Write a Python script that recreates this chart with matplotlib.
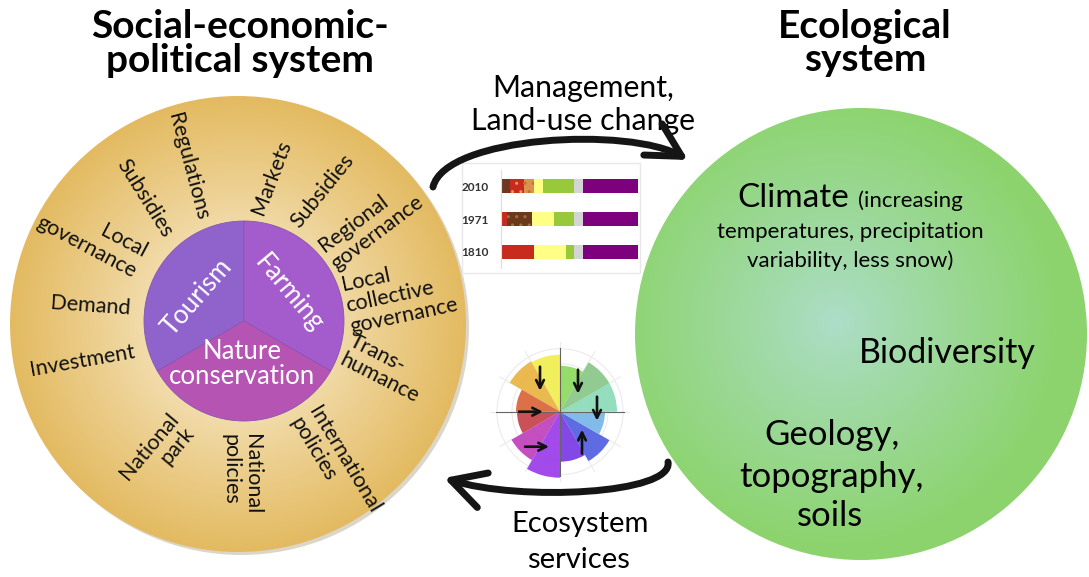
import numpy as np
import matplotlib.pyplot as plt
from matplotlib.patches import Circle, Wedge, Rectangle, FancyArrowPatch
from matplotlib.path import Path

plt.rcParams['font.family'] = ['Lato', 'DejaVu Sans']

# titles and labels
left_title = ["Social-economic-", "political system"]
right_title = ["Ecological", "system"]
sectors = ["Tourism", "Farming", "Nature\nconservation"]
drivers = ["Regulations", "Subsidies", "Local\ngovernance", "Demand", "Investment",
           "National\npark", "National\npolicies", "International\npolicies",
           "Trans-\nhumance", "Local\ncollective\ngovernance", "Regional\ngovernance",
           "Subsidies", "Markets"]
top_flow = ["Management,", "Land-use change"]
bottom_flow = ["Ecosystem", "services"]
eco_words = ["Climate", "(increasing", "temperatures, precipitation", "variability, less snow)",
             "Biodiversity", "Geology,", "topography,", "soils"]

# land-use bars (share of area, %)
years = ["2010", "1971", "1810"]
landuse_2010 = [6.6, 10.5, 7.1, 6.8, 22.4, 6.8, 39.8]
classes_2010 = ["brown", "red", "orange", "yellow", "green", "grey", "purple"]
landuse_1971 = [4.6, 18.3, 15.9, 14.6, 6.8, 39.8]
classes_1971 = ["red", "brown", "yellow", "green", "grey", "purple"]
landuse_1810 = [24.1, 23.4, 5.9, 6.8, 39.8]
classes_1810 = ["red", "yellow", "green", "grey", "purple"]

# rose diagram
rose_theta = [15, 45, 75, 105, 135, 165, 195, 225, 255, 285, 315, 345]
rose_length = [57, 57, 46, 57, 58, 44, 43, 56, 66, 50, 57, 45]
rose_arrow_x = [-20, 18, 37, -29, 22, -23]
rose_arrow_y = [33, 30, 3, 0, -30, -35]
rose_arrow_dir = ["down", "down", "down", "right", "up", "right"]

# layout / styles
class_colors = {"brown": "#6b3a1c", "red": "#c92a1e", "orange": "#d9934f", "yellow": "#ffff85",
                "green": "#97c93b", "grey": "#d4d4d4", "purple": "#7d007d"}
dot_colors = {("2010", "red"): "#e0a050", ("2010", "orange"): "#c07030", ("1971", "brown"): "#a07040"}
rose_colors = ["#8edcbb", "#8cc98c", "#8fdb63", "#f2ef55", "#e9b546", "#d9683f",
               "#c9484f", "#c045be", "#9e40e9", "#7d3ee6", "#5663e2", "#7bb8e8"]
sector_colors = ["#9063cc", "#a45bcb", "#b654b4"]
sector_angles = [(-210, -90), (-90, 30), (30, 150)]
driver_layout = [(188, 167, -75, 'center'), (145, 198, -58, 'center'), (92, 237, -28, 'right'),
                 (90, 306, -4, 'center'), (82, 361, 10, 'center'), (157, 453, 50, 'right'),
                 (241, 474, -90, 'left'), (335, 465, -59, 'left'), (384, 369, -27, 'left'),
                 (400, 295, 12, 'left'), (371, 224, 37, 'left'), (322, 191, 51, 'center'),
                 (271, 177, 69, 'center')]

W, H = 1089, 577
fig = plt.figure(figsize=(W / 100, H / 100), dpi=100)
ax = fig.add_axes([0, 0, 1, 1])
ax.axis('off')


def radial_fill(cx, cy, r, inner, outer, focus=(0, 0), power=1.0):
    xs = np.linspace(cx - r, cx + r, 400)
    ys = np.linspace(cy - r, cy + r, 400)
    X, Y = np.meshgrid(xs, ys)
    d = np.hypot(X - cx - focus[0], Y - cy - focus[1]) / r
    t = np.clip(d, 0, 1) ** power
    img = (1 - t)[..., None] * np.array(inner) + t[..., None] * np.array(outer)
    im = ax.imshow(img, extent=(cx - r, cx + r, cy + r, cy - r), origin='upper',
                   interpolation='bilinear', aspect='auto', zorder=1)
    im.set_clip_path(Circle((cx, cy), r, transform=ax.transData))


# left circle
ax.add_patch(Circle((241, 327), 228, color='#9a8a60', alpha=0.35, lw=0, zorder=0.5))
radial_fill(238, 324, 228, (1.0, 0.98, 0.93), (0.89, 0.73, 0.38), focus=(0, 0), power=0.85)

cx, cy, r = 244, 321, 100
for (a1, a2), c in zip(sector_angles, sector_colors):
    ax.add_patch(Wedge((cx, cy), r, a1, a2, facecolor=c, edgecolor='#8a55b0', lw=0.6, zorder=3))

ax.text(197, 297, sectors[0], color='white', fontsize=18.5, rotation=49, ha='center', va='center',
        rotation_mode='anchor', zorder=4)
ax.text(289, 293, sectors[1], color='white', fontsize=18.5, rotation=-50, ha='center', va='center',
        rotation_mode='anchor', zorder=4)
ax.text(242, 364, sectors[2], color='white', fontsize=18.5, ha='center', va='center',
        linespacing=1.0, zorder=4)

for label, (x, y, rot, al) in zip(drivers, driver_layout):
    ax.text(x, y, label, fontsize=15.5, rotation=rot, ha='center', va='center',
            rotation_mode='anchor', multialignment=al, color='#111111', zorder=4,
            linespacing=1.1)

# right circle
radial_fill(861, 334, 226, (0.68, 0.87, 0.79), (0.55, 0.83, 0.43), focus=(-25, -12), power=0.9)

ax.text(737, 207, eco_words[0], fontsize=24, ha='left', va='baseline', zorder=4)
ax.text(858, 207, eco_words[1], fontsize=16, ha='left', va='baseline', zorder=4)
ax.text(850, 238, eco_words[2], fontsize=16, ha='center', va='baseline', zorder=4)
ax.text(850, 267, eco_words[3], fontsize=16, ha='center', va='baseline', zorder=4)
ax.text(947, 363, eco_words[4], fontsize=24.5, ha='center', va='baseline', zorder=4)
ax.text(832, 445, eco_words[5], fontsize=25, ha='center', va='baseline', zorder=4)
ax.text(831, 487, eco_words[6], fontsize=25, ha='center', va='baseline', zorder=4)
ax.text(830, 526, eco_words[7], fontsize=25, ha='center', va='baseline', zorder=4)

# titles
ax.text(240, 38, left_title[0], fontsize=28, fontweight='bold', ha='center', va='baseline')
ax.text(240, 72, left_title[1], fontsize=28, fontweight='bold', ha='center', va='baseline')
ax.text(865, 38, right_title[0], fontsize=28, fontweight='bold', ha='center', va='baseline')
ax.text(865, 71, right_title[1], fontsize=28, fontweight='bold', ha='center', va='baseline')

ax.text(583, 97, top_flow[0], fontsize=21.8, ha='center', va='baseline')
ax.text(583, 130, top_flow[1], fontsize=21.8, ha='center', va='baseline')
ax.text(580, 532, bottom_flow[0], fontsize=21, ha='center', va='baseline')
ax.text(578, 568, bottom_flow[1], fontsize=21, ha='center', va='baseline')

# curved flow arrows
top_path = Path([(433, 187), (445, 136), (630, 126), (688, 160)],
                [Path.MOVETO, Path.CURVE4, Path.CURVE4, Path.CURVE4])
ax.add_patch(FancyArrowPatch(path=top_path, arrowstyle='->,head_length=1.2,head_width=0.65',
                             mutation_scale=20, lw=5, color='#151515', zorder=5))
bottom_path = Path([(668, 462), (674, 494), (520, 502), (444, 478)],
                   [Path.MOVETO, Path.CURVE4, Path.CURVE4, Path.CURVE4])
ax.add_patch(FancyArrowPatch(path=bottom_path, arrowstyle='->,head_length=1.2,head_width=0.65',
                             mutation_scale=20, lw=5, color='#151515', zorder=5))

# land-use panel
ax.add_patch(Rectangle((462, 163), 178, 110, facecolor='white', edgecolor='#e8e8e8', lw=1, zorder=2))

ax.set_xlim(0, W)
ax.set_ylim(H, 0)

bx = fig.add_axes([501 / W, 1 - 268 / H, 137 / W, 98 / H])
for i, (yr, vals, cls) in enumerate(zip(years, [landuse_2010, landuse_1971, landuse_1810],
                                        [classes_2010, classes_1971, classes_1810])):
    left = 0
    for v, c in zip(vals, cls):
        if (yr, c) in dot_colors:
            bx.barh(i, v, left=left, height=0.42, color=class_colors[c], edgecolor=dot_colors[(yr, c)],
                    lw=0, hatch='..')
        else:
            bx.barh(i, v, left=left, height=0.42, color=class_colors[c], lw=0)
        left += v
bx.set_xlim(0, 100)
bx.set_ylim(2.5, -0.5)
bx.set_yticks(range(len(years)))
bx.set_yticklabels(years, fontsize=8.5, color='#333333', fontweight='bold')
bx.tick_params(axis='y', length=0, pad=9)
bx.set_xticks([])
for s in ['top', 'right', 'bottom']:
    bx.spines[s].set_visible(False)
bx.spines['left'].set_color('#dddddd')
bx.patch.set_alpha(0)

# rose diagram
rc_x, rc_y, rr = 560, 411.7, 70
pos = [(rc_x - rr) / W, 1 - (rc_y + rr) / H, 2 * rr / W, 2 * rr / H]
px = fig.add_axes(pos, projection='polar')
px.bar(np.radians(rose_theta), rose_length, width=np.radians(30), color=rose_colors,
       alpha=0.95, lw=0, zorder=2)
px.set_ylim(0, rr)
px.set_rticks([16, 32, 48, 63])
px.set_thetagrids(range(0, 360, 30))
px.set_xticklabels([])
px.set_yticklabels([])
px.grid(color='#ebebeb', lw=0.8)
px.spines['polar'].set_visible(False)
px.patch.set_alpha(0)
for t in [0, np.pi / 2, np.pi, 3 * np.pi / 2]:
    px.plot([t, t], [0, 64], color='#666666', lw=0.8, zorder=3)

ox = fig.add_axes(pos)
ox.set_xlim(-rr, rr)
ox.set_ylim(-rr, rr)
ox.axis('off')
steps = {"down": (0, -1), "up": (0, 1), "right": (1, 0)}
for x, y, d in zip(rose_arrow_x, rose_arrow_y, rose_arrow_dir):
    dx, dy = steps[d]
    ox.annotate('', xy=(x + 12 * dx, y + 12 * dy), xytext=(x - 12 * dx, y - 12 * dy),
                arrowprops=dict(arrowstyle='->', lw=1.9, color='#111111', mutation_scale=14,
                                shrinkA=0, shrinkB=0))

fig.savefig('out.png', dpi=100)
